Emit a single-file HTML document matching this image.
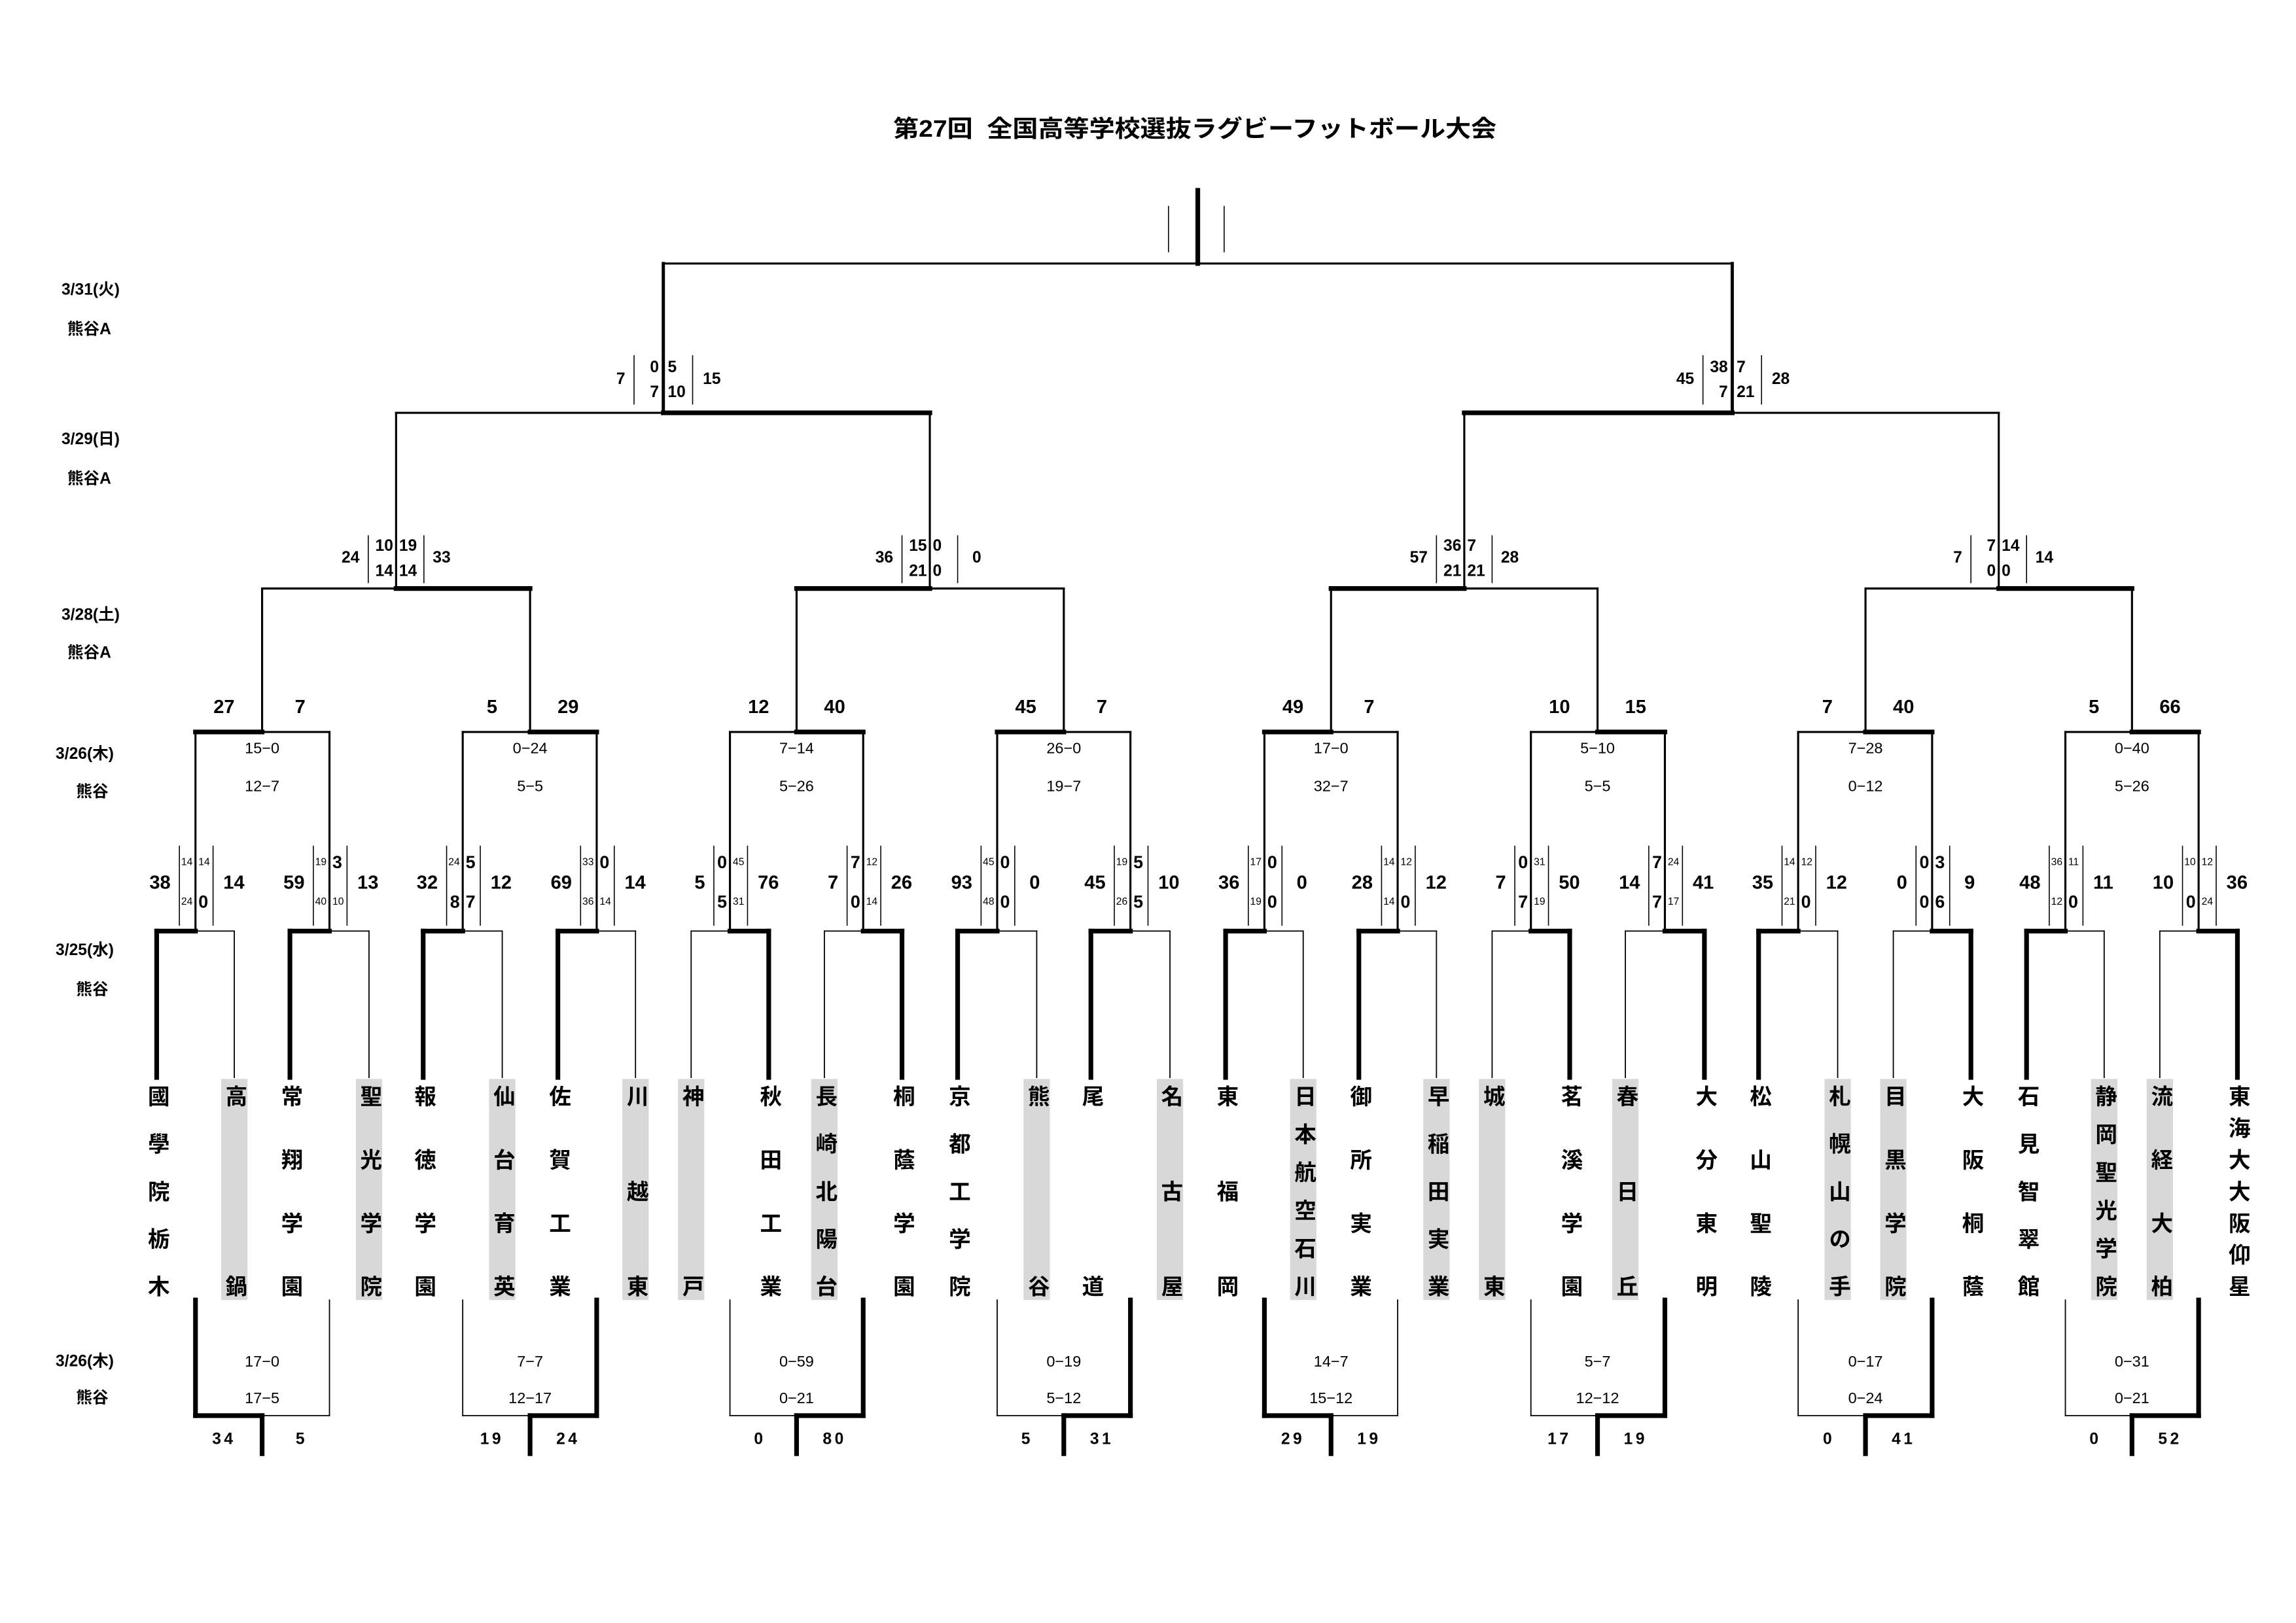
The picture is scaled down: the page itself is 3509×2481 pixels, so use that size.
<!DOCTYPE html>
<html><head><meta charset="utf-8">
<style>
html,body{margin:0;padding:0;background:#fff;}
body{width:3509px;height:2481px;overflow:hidden;}
#w{position:relative;width:1568px;height:1108.6px;transform:scale(2.23788);transform-origin:0 0;}
svg{position:absolute;left:0;top:0;}
text{font-family:"Liberation Sans","Noto Sans CJK JP",sans-serif;dominant-baseline:central;fill:#000;}
.a{text-anchor:end}.b{text-anchor:start}.m{text-anchor:middle}
.T{font-size:13px;font-weight:bold}.L{font-size:12px;font-weight:bold}.S{font-size:7px}.R{font-size:10.5px}.H{font-size:11px;font-weight:bold}
.lab{font-size:11px;font-weight:bold}
line{stroke:#000;stroke-linecap:square}
.n{stroke-width:1.4}.w{stroke-width:3.2}.t{stroke-width:0.8}.s{stroke-width:0.7}
.g{position:absolute;top:737px;height:151px;width:18px;margin-left:-9px;background:#d8d8d8;}
.nm{position:absolute;top:740.5px;height:145px;width:20px;margin-left:-10px;writing-mode:vertical-rl;text-orientation:upright;font:bold 15px "Liberation Sans","Noto Sans CJK JP",sans-serif;text-align:justify;text-align-last:justify;line-height:20px;white-space:nowrap;}
</style></head><body><div id="w">
<div class="g" style="left:160px"></div>
<div class="g" style="left:252px"></div>
<div class="g" style="left:343px"></div>
<div class="g" style="left:434px"></div>
<div class="g" style="left:472px"></div>
<div class="g" style="left:563px"></div>
<div class="g" style="left:708px"></div>
<div class="g" style="left:799px"></div>
<div class="g" style="left:890px"></div>
<div class="g" style="left:981px"></div>
<div class="g" style="left:1019px"></div>
<div class="g" style="left:1110px"></div>
<div class="g" style="left:1255px"></div>
<div class="g" style="left:1293px"></div>
<div class="g" style="left:1437px"></div>
<div class="g" style="left:1475px"></div>

<div class="nm" style="left:107px">國學院栃木</div>
<div class="nm" style="left:160px">高鍋</div>
<div class="nm" style="left:198px">常翔学園</div>
<div class="nm" style="left:252px">聖光学院</div>
<div class="nm" style="left:289px">報徳学園</div>
<div class="nm" style="left:343px">仙台育英</div>
<div class="nm" style="left:381px">佐賀工業</div>
<div class="nm" style="left:434px">川越東</div>
<div class="nm" style="left:472px">神戸</div>
<div class="nm" style="left:525px">秋田工業</div>
<div class="nm" style="left:563px">長崎北陽台</div>
<div class="nm" style="left:616px">桐蔭学園</div>
<div class="nm" style="left:654px">京都工学院</div>
<div class="nm" style="left:708px">熊谷</div>
<div class="nm" style="left:745px">尾道</div>
<div class="nm" style="left:799px">名古屋</div>
<div class="nm" style="left:837px">東福岡</div>
<div class="nm" style="left:890px">日本航空石川</div>
<div class="nm" style="left:928px">御所実業</div>
<div class="nm" style="left:981px">早稲田実業</div>
<div class="nm" style="left:1019px">城東</div>
<div class="nm" style="left:1072px">茗溪学園</div>
<div class="nm" style="left:1110px">春日丘</div>
<div class="nm" style="left:1164px">大分東明</div>
<div class="nm" style="left:1201px">松山聖陵</div>
<div class="nm" style="left:1255px">札幌山の手</div>
<div class="nm" style="left:1293px">目黒学院</div>
<div class="nm" style="left:1346px">大阪桐蔭</div>
<div class="nm" style="left:1384px">石見智翠館</div>
<div class="nm" style="left:1437px">静岡聖光学院</div>
<div class="nm" style="left:1475px">流経大柏</div>
<div class="nm" style="left:1528px">東海大大阪仰星</div>

<svg width="1568" height="1108.6" viewBox="0 0 1568 1108.6" xmlns="http://www.w3.org/2000/svg">
<text x="610" y="88" font-size="16" font-weight="bold" textLength="412" lengthAdjust="spacingAndGlyphs">第27回&#160; 全国高等学校選抜ラグビーフットボール大会</text>

<text class="lab" x="42" y="198">3/31(火)</text><text class="lab" x="46" y="225">熊谷A</text>
<text class="lab" x="42" y="300">3/29(日)</text><text class="lab" x="46" y="327">熊谷A</text>
<text class="lab" x="42" y="420">3/28(土)</text><text class="lab" x="46" y="446">熊谷A</text>
<text class="lab" x="38" y="515">3/26(木)</text><text class="lab" x="52" y="541">熊谷</text>
<text class="lab" x="38" y="649">3/25(水)</text><text class="lab" x="52" y="676">熊谷</text>
<text class="lab" x="38" y="930">3/26(木)</text><text class="lab" x="52" y="955">熊谷</text>

<!-- final -->
<line class="w" x1="818" y1="130" x2="818" y2="180"/>
<line class="s" x1="798" y1="141" x2="798" y2="172"/>
<line class="s" x1="836" y1="141" x2="836" y2="172"/>
<line class="n" x1="453" y1="180" x2="1183" y2="180"/>
<line class="w" x1="453" y1="180" x2="453" y2="282" style="stroke-width:2.2"/>
<line class="w" x1="1183" y1="180" x2="1183" y2="282" style="stroke-width:2.2"/>

<!-- semifinals y=282 -->
<line class="n" x1="270.5" y1="282" x2="635" y2="282"/>
<line class="w" x1="453" y1="282" x2="635" y2="282"/>
<line class="n" x1="270.5" y1="282" x2="270.5" y2="402"/>
<line class="n" x1="635" y1="282" x2="635" y2="402"/>
<line class="n" x1="1000" y1="282" x2="1365" y2="282"/>
<line class="w" x1="1000" y1="282" x2="1183" y2="282"/>
<line class="n" x1="1000" y1="282" x2="1000" y2="402"/>
<line class="n" x1="1365" y1="282" x2="1365" y2="402"/>

<!-- SF scores -->
<g transform="translate(453 0)"><text class="a H" x="-26" y="259">7</text><line class="s" x1="-20" y1="243" x2="-20" y2="276"/><text class="a H" x="-3" y="251">0</text><text class="a H" x="-3" y="268">7</text><text class="b H" x="3" y="251">5</text><text class="b H" x="3" y="268">10</text><line class="s" x1="20" y1="243" x2="20" y2="276"/><text class="b H" x="27" y="259">15</text></g>
<g transform="translate(1183 0)"><text class="a H" x="-26" y="259">45</text><line class="s" x1="-20" y1="243" x2="-20" y2="276"/><text class="a H" x="-3" y="251">38</text><text class="a H" x="-3" y="268">7</text><text class="b H" x="3" y="251">7</text><text class="b H" x="3" y="268">21</text><line class="s" x1="20" y1="243" x2="20" y2="276"/><text class="b H" x="27" y="259">28</text></g>

<!-- round 3 y=402 -->
<line class="n" x1="179" y1="402" x2="362" y2="402"/><line class="w" x1="270.5" y1="402" x2="362" y2="402"/>
<line class="n" x1="179" y1="402" x2="179" y2="500"/><line class="n" x1="362" y1="402" x2="362" y2="500"/>
<line class="n" x1="544" y1="402" x2="726.5" y2="402"/><line class="w" x1="544" y1="402" x2="635" y2="402"/>
<line class="n" x1="544" y1="402" x2="544" y2="500"/><line class="n" x1="726.5" y1="402" x2="726.5" y2="500"/>
<line class="n" x1="909" y1="402" x2="1091" y2="402"/><line class="w" x1="909" y1="402" x2="1000" y2="402"/>
<line class="n" x1="909" y1="402" x2="909" y2="500"/><line class="n" x1="1091" y1="402" x2="1091" y2="500"/>
<line class="n" x1="1274" y1="402" x2="1456" y2="402"/><line class="w" x1="1365" y1="402" x2="1456" y2="402"/>
<line class="n" x1="1274" y1="402" x2="1274" y2="500"/><line class="n" x1="1456" y1="402" x2="1456" y2="500"/>

<!-- R3 scores -->
<g transform="translate(270.5 0)"><text class="a H" x="-25" y="381">24</text><line class="s" x1="-19" y1="366" x2="-19" y2="398"/><text class="a H" x="-2" y="373">10</text><text class="a H" x="-2" y="390">14</text><text class="b H" x="2" y="373">19</text><text class="b H" x="2" y="390">14</text><line class="s" x1="19" y1="366" x2="19" y2="398"/><text class="b H" x="25" y="381">33</text></g>
<g transform="translate(635 0)"><text class="a H" x="-25" y="381">36</text><line class="s" x1="-19" y1="366" x2="-19" y2="398"/><text class="a H" x="-2" y="373">15</text><text class="a H" x="-2" y="390">21</text><text class="b H" x="2" y="373">0</text><text class="b H" x="2" y="390">0</text><line class="s" x1="19" y1="366" x2="19" y2="398"/><text class="b H" x="29" y="381">0</text></g>
<g transform="translate(1000 0)"><text class="a H" x="-25" y="381">57</text><line class="s" x1="-19" y1="366" x2="-19" y2="398"/><text class="a H" x="-2" y="373">36</text><text class="a H" x="-2" y="390">21</text><text class="b H" x="2" y="373">7</text><text class="b H" x="2" y="390">21</text><line class="s" x1="19" y1="366" x2="19" y2="398"/><text class="b H" x="25" y="381">28</text></g>
<g transform="translate(1365 0)"><text class="a H" x="-25" y="381">7</text><line class="s" x1="-19" y1="366" x2="-19" y2="398"/><text class="a H" x="-2" y="373">7</text><text class="a H" x="-2" y="390">0</text><text class="b H" x="2" y="373">14</text><text class="b H" x="2" y="390">0</text><line class="s" x1="19" y1="366" x2="19" y2="398"/><text class="b H" x="25" y="381">14</text></g>

<!-- round 2 y=500 -->
<line class="n" x1="133.5" y1="500" x2="225" y2="500"/><line class="w" x1="133.5" y1="500" x2="179" y2="500"/>
<line class="n" x1="316" y1="500" x2="407.5" y2="500"/><line class="w" x1="362" y1="500" x2="407.5" y2="500"/>
<line class="n" x1="498.5" y1="500" x2="589.5" y2="500"/><line class="w" x1="544" y1="500" x2="589.5" y2="500"/>
<line class="n" x1="681" y1="500" x2="772" y2="500"/><line class="w" x1="681" y1="500" x2="726.5" y2="500"/>
<line class="n" x1="863.5" y1="500" x2="954.5" y2="500"/><line class="w" x1="863.5" y1="500" x2="909" y2="500"/>
<line class="n" x1="1045.5" y1="500" x2="1137" y2="500"/><line class="w" x1="1091" y1="500" x2="1137" y2="500"/>
<line class="n" x1="1228" y1="500" x2="1319.5" y2="500"/><line class="w" x1="1274" y1="500" x2="1319.5" y2="500"/>
<line class="n" x1="1410.5" y1="500" x2="1501.5" y2="500"/><line class="w" x1="1456" y1="500" x2="1501.5" y2="500"/>
<line class="n" x1="133.5" y1="500" x2="133.5" y2="636"/><line class="n" x1="225" y1="500" x2="225" y2="636"/>
<line class="n" x1="316" y1="500" x2="316" y2="636"/><line class="n" x1="407.5" y1="500" x2="407.5" y2="636"/>
<line class="n" x1="498.5" y1="500" x2="498.5" y2="636"/><line class="n" x1="589.5" y1="500" x2="589.5" y2="636"/>
<line class="n" x1="681" y1="500" x2="681" y2="636"/><line class="n" x1="772" y1="500" x2="772" y2="636"/>
<line class="n" x1="863.5" y1="500" x2="863.5" y2="636"/><line class="n" x1="954.5" y1="500" x2="954.5" y2="636"/>
<line class="n" x1="1045.5" y1="500" x2="1045.5" y2="636"/><line class="n" x1="1137" y1="500" x2="1137" y2="636"/>
<line class="n" x1="1228" y1="500" x2="1228" y2="636"/><line class="n" x1="1319.5" y1="500" x2="1319.5" y2="636"/>
<line class="n" x1="1410.5" y1="500" x2="1410.5" y2="636"/><line class="n" x1="1501.5" y1="500" x2="1501.5" y2="636"/>

<!-- R2 scores -->
<g transform="translate(179 0)"><text class="m T" x="-26" y="483">27</text><text class="m T" x="26" y="483">7</text><text class="m R" x="0" y="511">15−0</text><text class="m R" x="0" y="537">12−7</text></g>
<g transform="translate(362 0)"><text class="m T" x="-26" y="483">5</text><text class="m T" x="26" y="483">29</text><text class="m R" x="0" y="511">0−24</text><text class="m R" x="0" y="537">5−5</text></g>
<g transform="translate(544 0)"><text class="m T" x="-26" y="483">12</text><text class="m T" x="26" y="483">40</text><text class="m R" x="0" y="511">7−14</text><text class="m R" x="0" y="537">5−26</text></g>
<g transform="translate(726.5 0)"><text class="m T" x="-26" y="483">45</text><text class="m T" x="26" y="483">7</text><text class="m R" x="0" y="511">26−0</text><text class="m R" x="0" y="537">19−7</text></g>
<g transform="translate(909 0)"><text class="m T" x="-26" y="483">49</text><text class="m T" x="26" y="483">7</text><text class="m R" x="0" y="511">17−0</text><text class="m R" x="0" y="537">32−7</text></g>
<g transform="translate(1091 0)"><text class="m T" x="-26" y="483">10</text><text class="m T" x="26" y="483">15</text><text class="m R" x="0" y="511">5−10</text><text class="m R" x="0" y="537">5−5</text></g>
<g transform="translate(1274 0)"><text class="m T" x="-26" y="483">7</text><text class="m T" x="26" y="483">40</text><text class="m R" x="0" y="511">7−28</text><text class="m R" x="0" y="537">0−12</text></g>
<g transform="translate(1456 0)"><text class="m T" x="-26" y="483">5</text><text class="m T" x="26" y="483">66</text><text class="m R" x="0" y="511">0−40</text><text class="m R" x="0" y="537">5−26</text></g>

<!-- round 1 y=636 -->
<line class="t" x1="107" y1="636" x2="160" y2="636"/><line class="w" x1="107" y1="636" x2="133.5" y2="636"/><line class="w" x1="107" y1="636" x2="107" y2="736"/><line class="t" x1="160" y1="636" x2="160" y2="736"/>
<line class="t" x1="198" y1="636" x2="252" y2="636"/><line class="w" x1="198" y1="636" x2="225" y2="636"/><line class="w" x1="198" y1="636" x2="198" y2="736"/><line class="t" x1="252" y1="636" x2="252" y2="736"/>
<line class="t" x1="289" y1="636" x2="343" y2="636"/><line class="w" x1="289" y1="636" x2="316" y2="636"/><line class="w" x1="289" y1="636" x2="289" y2="736"/><line class="t" x1="343" y1="636" x2="343" y2="736"/>
<line class="t" x1="381" y1="636" x2="434" y2="636"/><line class="w" x1="381" y1="636" x2="407.5" y2="636"/><line class="w" x1="381" y1="636" x2="381" y2="736"/><line class="t" x1="434" y1="636" x2="434" y2="736"/>
<line class="t" x1="472" y1="636" x2="525" y2="636"/><line class="w" x1="498.5" y1="636" x2="525" y2="636"/><line class="w" x1="525" y1="636" x2="525" y2="736"/><line class="t" x1="472" y1="636" x2="472" y2="736"/>
<line class="t" x1="563" y1="636" x2="616" y2="636"/><line class="w" x1="589.5" y1="636" x2="616" y2="636"/><line class="w" x1="616" y1="636" x2="616" y2="736"/><line class="t" x1="563" y1="636" x2="563" y2="736"/>
<line class="t" x1="654" y1="636" x2="708" y2="636"/><line class="w" x1="654" y1="636" x2="681" y2="636"/><line class="w" x1="654" y1="636" x2="654" y2="736"/><line class="t" x1="708" y1="636" x2="708" y2="736"/>
<line class="t" x1="745" y1="636" x2="799" y2="636"/><line class="w" x1="745" y1="636" x2="772" y2="636"/><line class="w" x1="745" y1="636" x2="745" y2="736"/><line class="t" x1="799" y1="636" x2="799" y2="736"/>
<line class="t" x1="837" y1="636" x2="890" y2="636"/><line class="w" x1="837" y1="636" x2="863.5" y2="636"/><line class="w" x1="837" y1="636" x2="837" y2="736"/><line class="t" x1="890" y1="636" x2="890" y2="736"/>
<line class="t" x1="928" y1="636" x2="981" y2="636"/><line class="w" x1="928" y1="636" x2="954.5" y2="636"/><line class="w" x1="928" y1="636" x2="928" y2="736"/><line class="t" x1="981" y1="636" x2="981" y2="736"/>
<line class="t" x1="1019" y1="636" x2="1072" y2="636"/><line class="w" x1="1045.5" y1="636" x2="1072" y2="636"/><line class="w" x1="1072" y1="636" x2="1072" y2="736"/><line class="t" x1="1019" y1="636" x2="1019" y2="736"/>
<line class="t" x1="1110" y1="636" x2="1164" y2="636"/><line class="w" x1="1137" y1="636" x2="1164" y2="636"/><line class="w" x1="1164" y1="636" x2="1164" y2="736"/><line class="t" x1="1110" y1="636" x2="1110" y2="736"/>
<line class="t" x1="1201" y1="636" x2="1255" y2="636"/><line class="w" x1="1201" y1="636" x2="1228" y2="636"/><line class="w" x1="1201" y1="636" x2="1201" y2="736"/><line class="t" x1="1255" y1="636" x2="1255" y2="736"/>
<line class="t" x1="1293" y1="636" x2="1346" y2="636"/><line class="w" x1="1319.5" y1="636" x2="1346" y2="636"/><line class="w" x1="1346" y1="636" x2="1346" y2="736"/><line class="t" x1="1293" y1="636" x2="1293" y2="736"/>
<line class="t" x1="1384" y1="636" x2="1437" y2="636"/><line class="w" x1="1384" y1="636" x2="1410.5" y2="636"/><line class="w" x1="1384" y1="636" x2="1384" y2="736"/><line class="t" x1="1437" y1="636" x2="1437" y2="736"/>
<line class="t" x1="1475" y1="636" x2="1528" y2="636"/><line class="w" x1="1501.5" y1="636" x2="1528" y2="636"/><line class="w" x1="1528" y1="636" x2="1528" y2="736"/><line class="t" x1="1475" y1="636" x2="1475" y2="736"/>

<!-- R1 scores -->
<g transform="translate(133.5 0)"><text class="a T" x="-17" y="603">38</text><line class="s" x1="-11" y1="578" x2="-11" y2="632"/><text class="a S" x="-2" y="589">14</text><text class="a S" x="-2" y="616">24</text><text class="b S" x="2" y="589">14</text><text class="b L" x="2" y="616">0</text><line class="s" x1="12" y1="578" x2="12" y2="632"/><text class="b T" x="19" y="603">14</text></g>
<g transform="translate(225 0)"><text class="a T" x="-17" y="603">59</text><line class="s" x1="-11" y1="578" x2="-11" y2="632"/><text class="a S" x="-2" y="589">19</text><text class="a S" x="-2" y="616">40</text><text class="b L" x="2" y="589">3</text><text class="b S" x="2" y="616">10</text><line class="s" x1="12" y1="578" x2="12" y2="632"/><text class="b T" x="19" y="603">13</text></g>
<g transform="translate(316 0)"><text class="a T" x="-17" y="603">32</text><line class="s" x1="-11" y1="578" x2="-11" y2="632"/><text class="a S" x="-2" y="589">24</text><text class="a L" x="-2" y="616">8</text><text class="b L" x="2" y="589">5</text><text class="b L" x="2" y="616">7</text><line class="s" x1="12" y1="578" x2="12" y2="632"/><text class="b T" x="19" y="603">12</text></g>
<g transform="translate(407.5 0)"><text class="a T" x="-17" y="603">69</text><line class="s" x1="-11" y1="578" x2="-11" y2="632"/><text class="a S" x="-2" y="589">33</text><text class="a S" x="-2" y="616">36</text><text class="b L" x="2" y="589">0</text><text class="b S" x="2" y="616">14</text><line class="s" x1="12" y1="578" x2="12" y2="632"/><text class="b T" x="19" y="603">14</text></g>
<g transform="translate(498.5 0)"><text class="a T" x="-17" y="603">5</text><line class="s" x1="-11" y1="578" x2="-11" y2="632"/><text class="a L" x="-2" y="589">0</text><text class="a L" x="-2" y="616">5</text><text class="b S" x="2" y="589">45</text><text class="b S" x="2" y="616">31</text><line class="s" x1="12" y1="578" x2="12" y2="632"/><text class="b T" x="19" y="603">76</text></g>
<g transform="translate(589.5 0)"><text class="a T" x="-17" y="603">7</text><line class="s" x1="-11" y1="578" x2="-11" y2="632"/><text class="a L" x="-2" y="589">7</text><text class="a L" x="-2" y="616">0</text><text class="b S" x="2" y="589">12</text><text class="b S" x="2" y="616">14</text><line class="s" x1="12" y1="578" x2="12" y2="632"/><text class="b T" x="19" y="603">26</text></g>
<g transform="translate(681 0)"><text class="a T" x="-17" y="603">93</text><line class="s" x1="-11" y1="578" x2="-11" y2="632"/><text class="a S" x="-2" y="589">45</text><text class="a S" x="-2" y="616">48</text><text class="b L" x="2" y="589">0</text><text class="b L" x="2" y="616">0</text><line class="s" x1="12" y1="578" x2="12" y2="632"/><text class="b T" x="22" y="603">0</text></g>
<g transform="translate(772 0)"><text class="a T" x="-17" y="603">45</text><line class="s" x1="-11" y1="578" x2="-11" y2="632"/><text class="a S" x="-2" y="589">19</text><text class="a S" x="-2" y="616">26</text><text class="b L" x="2" y="589">5</text><text class="b L" x="2" y="616">5</text><line class="s" x1="12" y1="578" x2="12" y2="632"/><text class="b T" x="19" y="603">10</text></g>
<g transform="translate(863.5 0)"><text class="a T" x="-17" y="603">36</text><line class="s" x1="-11" y1="578" x2="-11" y2="632"/><text class="a S" x="-2" y="589">17</text><text class="a S" x="-2" y="616">19</text><text class="b L" x="2" y="589">0</text><text class="b L" x="2" y="616">0</text><line class="s" x1="12" y1="578" x2="12" y2="632"/><text class="b T" x="22" y="603">0</text></g>
<g transform="translate(954.5 0)"><text class="a T" x="-17" y="603">28</text><line class="s" x1="-11" y1="578" x2="-11" y2="632"/><text class="a S" x="-2" y="589">14</text><text class="a S" x="-2" y="616">14</text><text class="b S" x="2" y="589">12</text><text class="b L" x="2" y="616">0</text><line class="s" x1="12" y1="578" x2="12" y2="632"/><text class="b T" x="19" y="603">12</text></g>
<g transform="translate(1045.5 0)"><text class="a T" x="-17" y="603">7</text><line class="s" x1="-11" y1="578" x2="-11" y2="632"/><text class="a L" x="-2" y="589">0</text><text class="a L" x="-2" y="616">7</text><text class="b S" x="2" y="589">31</text><text class="b S" x="2" y="616">19</text><line class="s" x1="12" y1="578" x2="12" y2="632"/><text class="b T" x="19" y="603">50</text></g>
<g transform="translate(1137 0)"><text class="a T" x="-17" y="603">14</text><line class="s" x1="-11" y1="578" x2="-11" y2="632"/><text class="a L" x="-2" y="589">7</text><text class="a L" x="-2" y="616">7</text><text class="b S" x="2" y="589">24</text><text class="b S" x="2" y="616">17</text><line class="s" x1="12" y1="578" x2="12" y2="632"/><text class="b T" x="19" y="603">41</text></g>
<g transform="translate(1228 0)"><text class="a T" x="-17" y="603">35</text><line class="s" x1="-11" y1="578" x2="-11" y2="632"/><text class="a S" x="-2" y="589">14</text><text class="a S" x="-2" y="616">21</text><text class="b S" x="2" y="589">12</text><text class="b L" x="2" y="616">0</text><line class="s" x1="12" y1="578" x2="12" y2="632"/><text class="b T" x="19" y="603">12</text></g>
<g transform="translate(1319.5 0)"><text class="a T" x="-17" y="603">0</text><line class="s" x1="-11" y1="578" x2="-11" y2="632"/><text class="a L" x="-2" y="589">0</text><text class="a L" x="-2" y="616">0</text><text class="b L" x="2" y="589">3</text><text class="b L" x="2" y="616">6</text><line class="s" x1="12" y1="578" x2="12" y2="632"/><text class="b T" x="22" y="603">9</text></g>
<g transform="translate(1410.5 0)"><text class="a T" x="-17" y="603">48</text><line class="s" x1="-11" y1="578" x2="-11" y2="632"/><text class="a S" x="-2" y="589">36</text><text class="a S" x="-2" y="616">12</text><text class="b S" x="2" y="589">11</text><text class="b L" x="2" y="616">0</text><line class="s" x1="12" y1="578" x2="12" y2="632"/><text class="b T" x="19" y="603">11</text></g>
<g transform="translate(1501.5 0)"><text class="a T" x="-17" y="603">10</text><line class="s" x1="-11" y1="578" x2="-11" y2="632"/><text class="a S" x="-2" y="589">10</text><text class="a L" x="-2" y="616">0</text><text class="b S" x="2" y="589">12</text><text class="b S" x="2" y="616">24</text><line class="s" x1="12" y1="578" x2="12" y2="632"/><text class="b T" x="19" y="603">36</text></g>

<!-- bottom brackets -->
<line class="w" x1="133.5" y1="888" x2="133.5" y2="967"/><line class="t" x1="225" y1="888" x2="225" y2="967"/><line class="t" x1="133.5" y1="967" x2="225" y2="967"/><line class="w" x1="133.5" y1="967" x2="179" y2="967"/><line class="w" x1="179" y1="967" x2="179" y2="993"/>
<line class="t" x1="316" y1="888" x2="316" y2="967"/><line class="w" x1="407.5" y1="888" x2="407.5" y2="967"/><line class="t" x1="316" y1="967" x2="407.5" y2="967"/><line class="w" x1="362" y1="967" x2="407.5" y2="967"/><line class="w" x1="362" y1="967" x2="362" y2="993"/>
<line class="t" x1="498.5" y1="888" x2="498.5" y2="967"/><line class="w" x1="589.5" y1="888" x2="589.5" y2="967"/><line class="t" x1="498.5" y1="967" x2="589.5" y2="967"/><line class="w" x1="544" y1="967" x2="589.5" y2="967"/><line class="w" x1="544" y1="967" x2="544" y2="993"/>
<line class="t" x1="681" y1="888" x2="681" y2="967"/><line class="w" x1="772" y1="888" x2="772" y2="967"/><line class="t" x1="681" y1="967" x2="772" y2="967"/><line class="w" x1="726.5" y1="967" x2="772" y2="967"/><line class="w" x1="726.5" y1="967" x2="726.5" y2="993"/>
<line class="w" x1="863.5" y1="888" x2="863.5" y2="967"/><line class="t" x1="954.5" y1="888" x2="954.5" y2="967"/><line class="t" x1="863.5" y1="967" x2="954.5" y2="967"/><line class="w" x1="863.5" y1="967" x2="909" y2="967"/><line class="w" x1="909" y1="967" x2="909" y2="993"/>
<line class="t" x1="1045.5" y1="888" x2="1045.5" y2="967"/><line class="w" x1="1137" y1="888" x2="1137" y2="967"/><line class="t" x1="1045.5" y1="967" x2="1137" y2="967"/><line class="w" x1="1091" y1="967" x2="1137" y2="967"/><line class="w" x1="1091" y1="967" x2="1091" y2="993"/>
<line class="t" x1="1228" y1="888" x2="1228" y2="967"/><line class="w" x1="1319.5" y1="888" x2="1319.5" y2="967"/><line class="t" x1="1228" y1="967" x2="1319.5" y2="967"/><line class="w" x1="1274" y1="967" x2="1319.5" y2="967"/><line class="w" x1="1274" y1="967" x2="1274" y2="993"/>
<line class="t" x1="1410.5" y1="888" x2="1410.5" y2="967"/><line class="w" x1="1501.5" y1="888" x2="1501.5" y2="967"/><line class="t" x1="1410.5" y1="967" x2="1501.5" y2="967"/><line class="w" x1="1456" y1="967" x2="1501.5" y2="967"/><line class="w" x1="1456" y1="967" x2="1456" y2="993"/>

<!-- bottom scores -->
<g transform="translate(179 0)"><text class="m R" x="0" y="930">17−0</text><text class="m R" x="0" y="955">17−5</text><text class="m H" x="-26" y="983" letter-spacing="2">34</text><text class="m H" x="26" y="983">5</text></g>
<g transform="translate(362 0)"><text class="m R" x="0" y="930">7−7</text><text class="m R" x="0" y="955">12−17</text><text class="m H" x="-26" y="983" letter-spacing="2">19</text><text class="m H" x="26" y="983" letter-spacing="2">24</text></g>
<g transform="translate(544 0)"><text class="m R" x="0" y="930">0−59</text><text class="m R" x="0" y="955">0−21</text><text class="m H" x="-26" y="983">0</text><text class="m H" x="26" y="983" letter-spacing="2">80</text></g>
<g transform="translate(726.5 0)"><text class="m R" x="0" y="930">0−19</text><text class="m R" x="0" y="955">5−12</text><text class="m H" x="-26" y="983">5</text><text class="m H" x="26" y="983" letter-spacing="2">31</text></g>
<g transform="translate(909 0)"><text class="m R" x="0" y="930">14−7</text><text class="m R" x="0" y="955">15−12</text><text class="m H" x="-26" y="983" letter-spacing="2">29</text><text class="m H" x="26" y="983" letter-spacing="2">19</text></g>
<g transform="translate(1091 0)"><text class="m R" x="0" y="930">5−7</text><text class="m R" x="0" y="955">12−12</text><text class="m H" x="-26" y="983" letter-spacing="2">17</text><text class="m H" x="26" y="983" letter-spacing="2">19</text></g>
<g transform="translate(1274 0)"><text class="m R" x="0" y="930">0−17</text><text class="m R" x="0" y="955">0−24</text><text class="m H" x="-26" y="983">0</text><text class="m H" x="26" y="983" letter-spacing="2">41</text></g>
<g transform="translate(1456 0)"><text class="m R" x="0" y="930">0−31</text><text class="m R" x="0" y="955">0−21</text><text class="m H" x="-26" y="983">0</text><text class="m H" x="26" y="983" letter-spacing="2">52</text></g>
</svg>
</div></body></html>
